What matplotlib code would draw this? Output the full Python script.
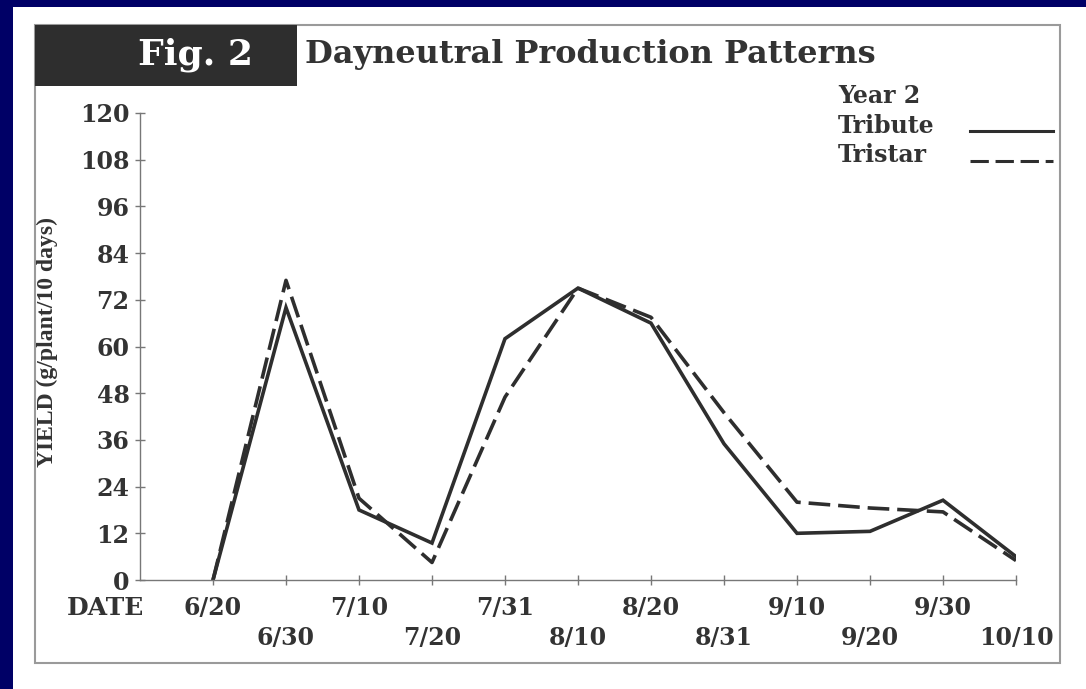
#---Dayneutral production patterns, Fig. 2---
import matplotlib
matplotlib.use("Agg")
import matplotlib.pyplot as plt
from matplotlib.patches import Rectangle
from matplotlib.lines import Line2D

#---Data---
Dates = ["6/20", "6/30", "7/10", "7/20", "7/31", "8/10",
         "8/20", "8/31", "9/10", "9/20", "9/30", "10/10"]
Tribute = [0, 70, 18, 9.5, 62, 75, 66, 35, 12, 12.5, 20.5, 6]
Tristar = [0, 77, 21, 4.5, 47, 75, 67.5, 43, 20, 18.5, 17.5, 5]
YTicks = [0, 12, 24, 36, 48, 60, 72, 84, 96, 108, 120]

#---Style---
Navy = "#000066"
Ink = "#333333"
LineCol = "#2e2e2e"
Serif = "DejaVu Serif"
W, H = 1086, 689

def FX(px):
    return px / W

def FY(py):
    return 1 - py / H

fig = plt.figure(figsize=(10.86, 6.89), dpi=100, facecolor=Navy)

#Paper and frame
fig.patches.append(Rectangle((FX(13), 0), 1 - FX(13), FY(7), transform=fig.transFigure,
                             facecolor="white", edgecolor="none", zorder=-2))
fig.patches.append(Rectangle((FX(35), FY(663)), FX(1060) - FX(35), FY(25) - FY(663),
                             transform=fig.transFigure, facecolor="none",
                             edgecolor="#9a9a9a", lw=1.5, zorder=-1))
fig.patches.append(Rectangle((FX(35), FY(86)), FX(297) - FX(35), FY(25) - FY(86),
                             transform=fig.transFigure, facecolor="#2e2e2e",
                             edgecolor="none", zorder=-1))
fig.text(FX(195), FY(55), "Fig. 2", color="white", fontsize=26, fontweight="bold",
         family=Serif, ha="center", va="center")
fig.text(FX(305), FY(55), "Dayneutral Production Patterns", color=Ink, fontsize=23,
         fontweight="bold", family=Serif, ha="left", va="center")

ax = fig.add_axes([FX(140), FY(580), FX(1016) - FX(140), FY(113) - FY(580)], zorder=2)
ax.set_facecolor("none")
X = list(range(len(Dates)))
ax.plot(X, Tribute, color=LineCol, lw=2.6, solid_joinstyle="miter")
ax.plot(X, Tristar, color=LineCol, lw=2.6, linestyle=(0, (6, 2.2)))

ax.set_xlim(-1, 11)
ax.set_ylim(0, 120)
for s in ["top", "right"]:
    ax.spines[s].set_visible(False)
for s in ["left", "bottom"]:
    ax.spines[s].set_color("#777777")
    ax.spines[s].set_linewidth(1)

ax.set_yticks(YTicks)
ax.set_yticklabels([str(v) for v in YTicks], family=Serif, fontweight="bold",
                   fontsize=17, color=Ink)
ax.set_xticks(X)
ax.set_xticklabels([d if i % 2 == 0 else "\n" + d for i, d in enumerate(Dates)],
                   family=Serif, fontweight="bold", fontsize=17, color=Ink)
plt.setp(ax.get_xticklabels(), linespacing=1.3)
ax.tick_params(axis="y", direction="inout", length=7, width=1, color="#777777", pad=4)
ax.tick_params(axis="x", direction="inout", length=7, width=1, color="#777777", pad=8)

fig.text(FX(47), FY(342), "YIELD (g/plant/10 days)", rotation=90, color=Ink,
         fontsize=17, fontweight="bold", family="Liberation Serif",
         ha="center", va="center")
fig.text(FX(105), FY(608), "DATE", color=Ink, fontsize=18, fontweight="bold",
         family=Serif, ha="center", va="center")

#Legend
fig.text(FX(838), FY(96), "Year 2", color=Ink, fontsize=17, fontweight="bold",
         family=Serif, ha="left", va="center")
fig.text(FX(838), FY(126), "Tribute", color=Ink, fontsize=17, fontweight="bold",
         family=Serif, ha="left", va="center")
fig.text(FX(838), FY(155), "Tristar", color=Ink, fontsize=17, fontweight="bold",
         family=Serif, ha="left", va="center")
fig.lines.append(Line2D([FX(970), FX(1053)], [FY(131), FY(131)], transform=fig.transFigure,
                        color=LineCol, lw=2.2))
fig.lines.append(Line2D([FX(970), FX(1053)], [FY(161), FY(161)], transform=fig.transFigure,
                        color=LineCol, lw=2.2, linestyle=(0, (6, 2.2))))

fig.savefig("out.png", dpi=100, facecolor=Navy)
